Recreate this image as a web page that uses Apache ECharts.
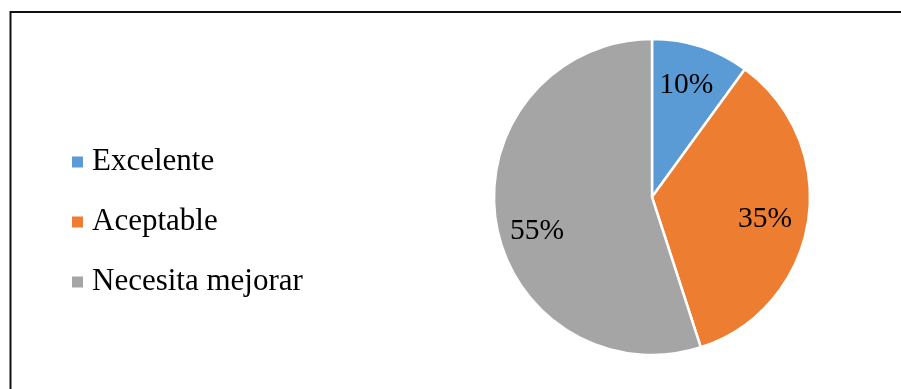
<!DOCTYPE html>
<html>
<head>
<meta charset="utf-8">
<script src="https://cdn.jsdelivr.net/npm/echarts@6/dist/echarts.min.js"></script>
<style>
  html, body { margin: 0; padding: 0; background: #fff; }
  #chart { width: 901px; height: 389px; }
</style>
</head>
<body>
<div id="chart"></div>
<script>
// Categories and shares (percent)
const categories = ['Excelente', 'Aceptable', 'Necesita mejorar'];
const shares = [10, 35, 55];
const colors = ['#5B9BD5', '#ED7D31', '#A5A5A5'];
// Nudges that move each percent label to its spot in the slice
const labelOffsets = [[9, -34], [32, 9], [-34, 21]];

const FONT = '"Liberation Serif", "Times New Roman", serif';

const chart = echarts.init(document.getElementById('chart'), null, { renderer: 'canvas' });

chart.setOption({
  backgroundColor: '#ffffff',
  animation: false,
  color: colors,
  legend: {
    orient: 'vertical',
    left: 72,
    top: 146,
    padding: 0,
    itemWidth: 11,
    itemHeight: 11,
    itemGap: 28,
    icon: 'rect',
    itemStyle: { borderWidth: 0 },
    data: categories,
    textStyle: {
      fontFamily: FONT,
      fontSize: 31,
      lineHeight: 32,
      color: '#000',
      padding: [0, 0, 0, 4]
    }
  },
  graphic: [{
    type: 'polyline',
    shape: { points: [[10.5, 389], [10.5, 12], [901, 12]] },
    style: { stroke: '#111', lineWidth: 2, fill: null },
    silent: true
  }],
  series: [{
    type: 'pie',
    center: [652, 197],
    radius: 158,
    startAngle: 90,
    clockwise: true,
    avoidLabelOverlap: false,
    itemStyle: { borderColor: '#fff', borderWidth: 2.5 },
    label: {
      show: true,
      position: 'inside',
      fontFamily: FONT,
      fontSize: 29.5,
      color: '#000',
      formatter: function (p) { return p.value + '%'; }
    },
    labelLine: { show: false },
    data: categories.map(function (name, i) {
      return { name: name, value: shares[i], label: { offset: labelOffsets[i] } };
    })
  }]
});
</script>
</body>
</html>
